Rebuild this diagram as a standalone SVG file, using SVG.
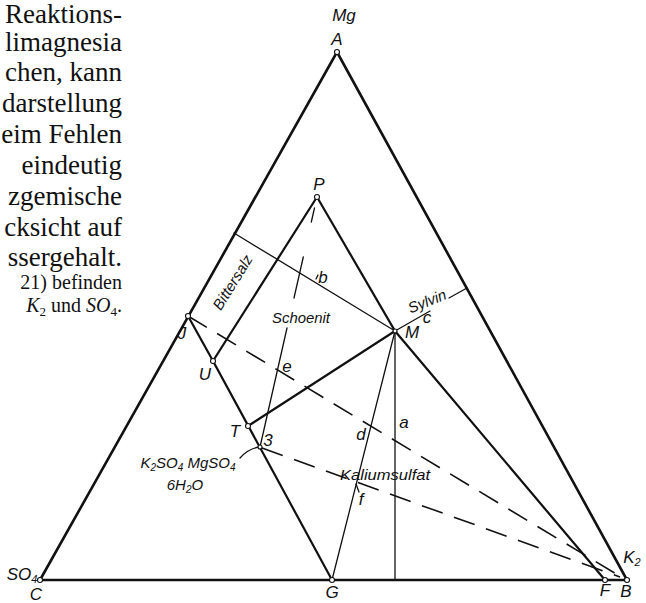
<svg xmlns="http://www.w3.org/2000/svg" width="646" height="603" viewBox="0 0 646 603">
<style>
.body{font-family:"Liberation Serif","DejaVu Serif",serif;font-size:27px;fill:#111;text-anchor:end}
.small{font-family:"Liberation Serif","DejaVu Serif",serif;font-size:20px;fill:#111;text-anchor:end}
.lbl{font-family:"Liberation Sans","DejaVu Sans",sans-serif;font-style:italic;font-size:17px;fill:#111;text-anchor:middle}
.name{font-family:"Liberation Sans","DejaVu Sans",sans-serif;font-style:italic;font-size:15px;fill:#111;text-anchor:middle}
.edge{stroke:#111;stroke-width:2.6;fill:none;stroke-linecap:round}
.thick{stroke:#111;stroke-width:2.2;fill:none;stroke-linecap:round}
.thin{stroke:#111;stroke-width:1.3;fill:none;stroke-linecap:round}
.dash{stroke:#111;stroke-width:1.6;fill:none;stroke-dasharray:22 12}
.pt{fill:#fff;stroke:#111;stroke-width:1.1}
</style>
<rect width="646" height="603" fill="#fff"/>
<g id="text-block">
<text class="body" x="122" y="23">Reaktions-</text>
<text class="body" x="122" y="51">limagnesia</text>
<text class="body" x="122" y="81">chen, kann</text>
<text class="body" x="122" y="112">darstellung</text>
<text class="body" x="122" y="143">eim Fehlen</text>
<text class="body" x="122" y="174">eindeutig</text>
<text class="body" x="122" y="205">zgemische</text>
<text class="body" x="122" y="236">cksicht auf</text>
<text class="body" x="122" y="266">ssergehalt.</text>
<text class="small" x="122" y="289">21) befinden</text>
<text class="small" x="122" y="312"><tspan font-style="italic">K</tspan><tspan font-size="13" dy="4">2</tspan><tspan dy="-4"> und </tspan><tspan font-style="italic">SO</tspan><tspan font-size="13" dy="4">4</tspan><tspan dy="-4">.</tspan></text>
</g>
<g id="connectors">
<path class="edge" d="M40,580 L337,52 L627,580 Z"/>
<path class="thick" d="M317,197 L213,361 L332,580"/>
<path class="thick" d="M188,316 L213,361"/>
<path class="thick" d="M317,197 L395,331 L605,580"/>
<path class="thick" d="M248,426 L395,331"/>
<path class="thin" d="M234,233 L395,331"/>
<path class="thin" d="M395,331 L430,311"/>
<path class="thin" d="M449,298 L467,288"/>
<path class="thin" d="M314.5,208 L311.3,222"/>
<path class="thin" d="M303.3,257 L294,298"/>
<path class="thin" d="M287,328 L260,447"/>
<path class="thin" d="M395,331 L332,580"/>
<path class="thin" d="M395,331 L395,580" stroke-width="1.6"/>
<path class="dash" d="M188,316 L618,575"/>
<path class="dash" d="M262,448 L620,577"/>
<path class="thin" d="M240,458 Q248,449 259,447" stroke-width="1.1"/>
<path class="thin" d="M316,279 L318,275" stroke-width="1"/>
<path class="thin" d="M356,484 L359,492" stroke-width="1"/>
</g>
<g id="node-A"><circle class="pt" cx="337" cy="52" r="2.5"/><text class="lbl" x="344" y="21">Mg</text><text class="lbl" x="337" y="45">A</text></g>
<g id="node-C"><circle class="pt" cx="40" cy="580" r="2.5"/><text class="lbl" x="22" y="580">SO<tspan font-size="11" dy="3">4</tspan></text><text class="lbl" x="36" y="600">C</text></g>
<g id="node-B"><circle class="pt" cx="627" cy="580" r="2.5"/><text class="lbl" x="626" y="597">B</text><text class="lbl" x="632" y="563">K<tspan font-size="11" dy="3">2</tspan></text></g>
<g id="node-F"><circle class="pt" cx="605" cy="580" r="2.5"/><text class="lbl" x="605" y="596">F</text></g>
<g id="node-G"><circle class="pt" cx="332" cy="580" r="2.5"/><text class="lbl" x="332" y="598">G</text></g>
<g id="node-P"><circle class="pt" cx="317" cy="197" r="2.5"/><text class="lbl" x="319" y="190">P</text></g>
<g id="node-M"><circle class="pt" cx="395" cy="331" r="2"/><text class="lbl" x="412" y="338">M</text></g>
<g id="node-J"><circle class="pt" cx="188" cy="316" r="2.5"/><text class="lbl" x="182" y="339">J</text></g>
<g id="node-U"><circle class="pt" cx="213" cy="361" r="2.5"/><text class="lbl" x="205" y="380">U</text></g>
<g id="node-T"><circle class="pt" cx="248" cy="426" r="2.5"/><text class="lbl" x="235" y="437">T</text></g>
<g id="node-3"><circle class="pt" cx="260" cy="447" r="2"/><text class="lbl" x="268" y="446" font-size="12">3</text>
<text class="name" x="188" y="468">K<tspan font-size="10" dy="3">2</tspan><tspan dy="-3">SO</tspan><tspan font-size="10" dy="3">4</tspan><tspan dy="-3"> MgSO</tspan><tspan font-size="10" dy="3">4</tspan></text>
<text class="name" x="185" y="490">6H<tspan font-size="10" dy="3">2</tspan><tspan dy="-3">O</tspan></text></g>
<g id="labels">
<text class="lbl" x="323" y="283">b</text>
<text class="lbl" x="427" y="323">c</text>
<text class="lbl" x="287" y="372">e</text>
<text class="lbl" x="361" y="440">d</text>
<text class="lbl" x="404" y="428">a</text>
<text class="lbl" x="361" y="505">f</text>
<text class="name" x="429" y="306" transform="rotate(-22 429 306)">Sylvin</text>
<text class="name" x="301" y="323" textLength="58" lengthAdjust="spacingAndGlyphs">Schoenit</text>
<text class="name" x="385" y="480" textLength="90" lengthAdjust="spacingAndGlyphs">Kaliumsulfat</text>
<text class="name" x="237" y="285" font-size="16" transform="rotate(-58 237 285)">Bittersalz</text>
</g>
</svg>
